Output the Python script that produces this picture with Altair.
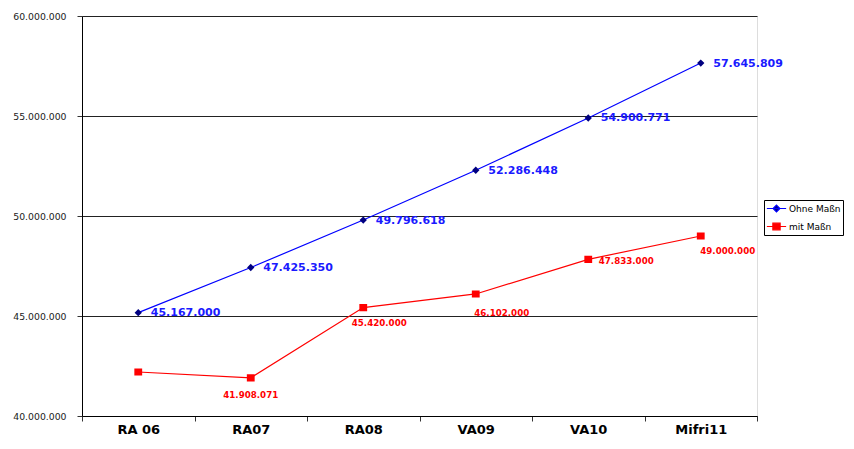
import altair as alt
import pandas as pd

categories = ["RA 06", "RA07", "RA08", "VA09", "VA10", "Mifri11"]
ohne = [45167000, 47425350, 49796618, 52286448, 54900771, 57645809]
mit = [42200000, 41908071, 45420000, 46102000, 47833000, 49000000]
mit_labelled = [False, True, True, True, True, True]
series_names = ["Ohne Maßn", "mit Maßn"]
y_ticks = [40000000, 45000000, 50000000, 55000000, 60000000]

# label nudges for the red labels (pixel offsets, like the manually moved Excel labels)
mit_dx = [0, 0, 16, 26, 38, 27]
mit_dy = [17, 17, 15, 19, 2, 15]


def fmt(v):
    return f"{v:,}".replace(",", ".")


rows = []
for c, v in zip(categories, ohne):
    rows.append({"cat": c, "series": series_names[0], "value": v, "label": fmt(v)})
for c, v, s in zip(categories, mit, mit_labelled):
    rows.append({"cat": c, "series": series_names[1], "value": v, "label": fmt(v) if s else ""})
df = pd.DataFrame(rows)

FONT = "DejaVu Sans"

x_enc = alt.X(
    "cat:N",
    sort=categories,
    bandPosition=0.5,
    scale=alt.Scale(type="band", paddingInner=0, paddingOuter=0),
    axis=alt.Axis(
        title=None, labelAngle=0, labelFontSize=13, labelFontWeight="bold",
        labelFont=FONT, labelColor="black", tickBand="extent", tickSize=5,
        domainColor="black", tickColor="#333", labelPadding=2, grid=False,
    ),
)
y_enc = alt.Y(
    "value:Q",
    scale=alt.Scale(domain=[40000000, 60000000], nice=False, zero=False),
    axis=alt.Axis(
        title=None, values=y_ticks, format=",.0f",
        labelExpr="replace(replace(datum.label, ',', '.'), ',', '.')",
        labelFontSize=9.3, labelFont=FONT, labelColor="#222", tickSize=5,
        tickColor="#333", domainColor="black", gridColor="#222", gridWidth=1,
        labelPadding=11,
    ),
)

legend = alt.Legend(
    title=None, orient="none", legendX=682, legendY=184,
    strokeColor="black", padding=2, labelFont=FONT, labelFontSize=9,
    labelColor="black", symbolSize=121, rowPadding=5, labelOffset=6,
    symbolOffset=4, symbolStrokeWidth=1.2,
)

stroke_scale = alt.Scale(domain=series_names, range=["#0000FF", "#FF0000"])

base = alt.Chart(df)

lines = base.mark_line(strokeWidth=1.2).encode(
    x=x_enc, y=y_enc,
    stroke=alt.Stroke("series:N", scale=stroke_scale, legend=legend),
)

diamond = "M-1.75,0H1.75M0,-0.62L0.62,0L0,0.62L-0.62,0Z"
square = "M-1.75,0H1.75M-0.66,-0.6H0.66V0.6H-0.66Z"

points = base.mark_point(filled=True, opacity=1, size=140, strokeWidth=0).encode(
    x=x_enc, y=y_enc,
    fill=alt.Fill(
        "series:N",
        scale=alt.Scale(domain=series_names, range=["#000080", "#FF0000"]),
        legend=legend,
    ),
    stroke=alt.Stroke("series:N", scale=stroke_scale, legend=legend),
    shape=alt.Shape("series:N", scale=alt.Scale(domain=series_names, range=[diamond, square]), legend=legend),
)

blue_labels = base.transform_filter(alt.datum.series == series_names[0]).mark_text(
    align="left", baseline="middle", dx=12.5, dy=0.5, fontSize=11, fontWeight="bold",
    font=FONT, color="#1a1aff",
).encode(x=x_enc, y=y_enc, text="label:N")

red_layers = []
for c, ddx, ddy, s in zip(categories, mit_dx, mit_dy, mit_labelled):
    if not s:
        continue
    red_layers.append(
        base.transform_filter((alt.datum.series == series_names[1]) & (alt.datum.cat == c)).mark_text(
            align="center", baseline="middle", dx=ddx, dy=ddy, fontSize=8.7, fontWeight="bold",
            font=FONT, color="#FF0000",
        ).encode(x=x_enc, y=y_enc, text="label:N")
    )

chart = alt.layer(lines, points, blue_labels, *red_layers).properties(
    width=675, height=400,
    padding={"left": 4, "top": 4, "right": 0, "bottom": 0},
).configure_view(stroke="#222", strokeWidth=1).configure(background="white")

chart.save("out.html", embed_options={"renderer": "svg", "actions": False})
